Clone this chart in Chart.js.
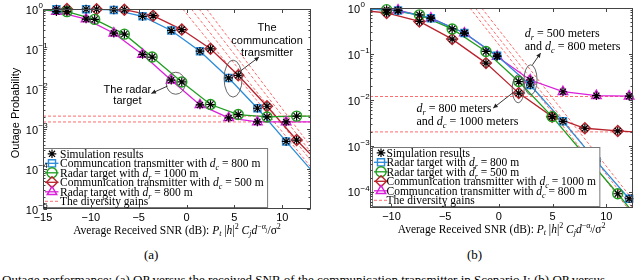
<!DOCTYPE html>
<html>
<head>
<meta charset="utf-8">
<script src="https://cdn.jsdelivr.net/npm/chart.js@4.4.1/dist/chart.umd.min.js"></script>
<style>
  body { margin: 0; width: 640px; height: 280px; overflow: hidden; background: #fff; position: relative; }
  .panel { position: absolute; top: 0; width: 320px; height: 245px; }
  .sub { position: absolute; top: 247px; font: 13px "Liberation Serif", serif; }
  #caption { position: absolute; left: 2px; top: 273px; font: 13px/14px "Liberation Serif", serif; white-space: nowrap; }
</style>
</head>
<body>
<div class="panel" style="left:0"><canvas id="a"></canvas></div>
<div class="panel" style="left:320px"><canvas id="b"></canvas></div>
<div class="sub" style="left:144px">(a)</div>
<div class="sub" style="left:467px">(b)</div>
<div id="caption">Outage performance: (a) OP versus the received SNR of the communication transmitter in Scenario I; (b) OP versus</div>
<script>
const SANS = '"Liberation Sans", Arial, sans-serif';
const SERIF = '"Liberation Serif", "Times New Roman", serif';

// ---- panel (a) ----
const xTicksA = [-15, -10, -5, 0, 5, 10];
const yExpA = [0, -1, -2, -3, -4, -5];

const commA800X = [-13.6, -10.5, -7.6, -4.6, -1.6, 1.4, 4.4, 7.4, 10.4];
const commA800Y = [0.99, 0.99, 0.95, 0.655, 0.29, 0.088, 0.0189, 0.0033, 0.00049];
const radarA1000X = [-12.5, -9.6, -6.5, -3.6, -0.5, 2.5, 5.4, 8.4, 11.5];
const radarA1000Y = [0.86, 0.55, 0.235, 0.063, 0.015, 0.0041, 0.0023, 0.0020, 0.0021];
const commA500X = [-12.5, -9.4, -6.5, -3.5, -0.5, 2.5, 5.4, 8.4, 11.5];
const commA500Y = [0.995, 0.99, 0.96, 0.68, 0.306, 0.101, 0.022, 0.0037, 0.00053];
const radarA800X = [-13.6, -10.5, -7.6, -4.6, -1.6, 1.4, 4.4, 7.4, 10.4];
const radarA800Y = [0.86, 0.56, 0.248, 0.073, 0.0166, 0.0040, 0.0019, 0.0015, 0.0015];
// curve values at the left / right edge of the axes
const edgesA = [[1.0, 9.5e-5], [0.95, 0.0021], [0.995, 2.26e-4], [0.95, 0.0015]];
// diversity gain asymptotes: start x at p = 1, value at right edge
const gainX0A = [-0.4, 0.5, 1.3, 2.1];
const gainEndA = [1.1e-4, 1.6e-4, 2.6e-4, 3.6e-4];
const gainLevelsA = [0.0021, 0.0015];

// ---- panel (b) ----
const xTicksB = [-10, -5, 0, 5, 10];
const yExpB = [0, -1, -2, -3, -4];

const radarB800X = [-9.39, -6.33, -3.21, -0.16, 2.92, 5.97, 9.08, 12.13];
const radarB800Y = [0.88, 0.60, 0.285, 0.091, 0.021, 0.0034, 0.00046, 0.00007];
const radarB500X = [-10.45, -7.4, -4.35, -1.2, 1.85, 4.96, 8.01, 11.07];
const radarB500Y = [0.92, 0.71, 0.35, 0.113, 0.025, 0.0043, 0.00062, 0.00009];
const commB1000X = [-10.45, -7.4, -4.35, -1.2, 1.85, 4.96, 8.01, 11.07];
const commB1000Y = [0.78, 0.51, 0.21, 0.063, 0.014, 0.0043, 0.0024, 0.0021];
const commB800X = [-9.39, -6.33, -3.21, -0.16, 2.92, 5.97, 9.08, 12.13];
const commB800Y = [0.90, 0.60, 0.285, 0.088, 0.027, 0.015, 0.0123, 0.012];
const edgesB = [[0.95, 6e-5], [0.95, 3.5e-5], [0.85, 0.002], [0.95, 0.012]];
const gainX0B = [-2.7, -2.2, -1.6];
const gainEndB = [3.1e-5, 4.3e-5, 6.5e-5];
const gainLevelsB = [0.0118, 0.0020];

const colors = { blue: '#2a8bd8', green: '#1f9e1f', red: '#b8232d', magenta: '#da1fda', gain: '#ff6b6b', frame: '#444' };

// rich text helpers
const R = t => ({ t });
const I = t => ({ t, i: true });
const SUB = t => ({ t, i: true, k: 0.7, dy: 0.25 });
const SUP = t => ({ t, k: 0.7, dy: -0.4 });

function rich(ctx, parts, x, y, size, family, align) {
  const base = y + size * 0.35;
  const segs = parts.map(pt => {
    const font = (pt.i ? 'italic ' : '') + (size * (pt.k || 1)).toFixed(1) + 'px ' + family;
    ctx.font = font;
    return { t: pt.t, font, w: ctx.measureText(pt.t).width, dy: (pt.dy || 0) * size };
  });
  const total = segs.reduce((s, g) => s + g.w, 0);
  let cx = align === 'center' ? x - total / 2 : align === 'right' ? x - total : x;
  ctx.textAlign = 'left';
  ctx.textBaseline = 'alphabetic';
  segs.forEach(g => { ctx.font = g.font; ctx.fillText(g.t, cx, base + g.dy); cx += g.w; });
  return total;
}

function measure(ctx, parts, size, family) {
  return parts.reduce((s, pt) => {
    ctx.font = (pt.i ? 'italic ' : '') + (size * (pt.k || 1)).toFixed(1) + 'px ' + family;
    return s + ctx.measureText(pt.t).width;
  }, 0);
}

function arrow(ctx, x1, y1, x2, y2) {
  ctx.beginPath(); ctx.moveTo(x1, y1); ctx.lineTo(x2, y2); ctx.stroke();
  const a = Math.atan2(y2 - y1, x2 - x1), L = 5;
  ctx.beginPath();
  ctx.moveTo(x2, y2);
  ctx.lineTo(x2 - L * Math.cos(a - 0.45), y2 - L * Math.sin(a - 0.45));
  ctx.lineTo(x2 - L * Math.cos(a + 0.45), y2 - L * Math.sin(a + 0.45));
  ctx.closePath();
  ctx.fill();
}

const mathTitle = [R('Average Received SNR (dB): '), I('P'), SUB('t'), R(' |'), I('h'), R('|'), SUP('2'), R(' '),
  I('C'), SUB('j'), I('d'), SUP('\u2212\u03b1'), { t: 'j', i: true, k: 0.5, dy: -0.15 }, R('/\u03c3'), SUP('2')];

const panels = {
  a: {
    xMin: -15, xMax: 13, yMin: 1e-5, xTicks: xTicksA, yExp: yExpA,
    pad: [9, 9], axisW: 43, axisH: 36, labGap: 5, legendDx: 0, legendTextDx: 16.5,
    series: [
      { x: commA800X, y: commA800Y, edge: edgesA[0], color: colors.blue, style: 'rect', r: 5,
        label: [R('Communcation transmitter with '), I('d'), SUB('c'), R(' = 800 m')] },
      { x: radarA1000X, y: radarA1000Y, edge: edgesA[1], color: colors.green, style: 'circle', r: 5,
        label: [R('Radar target with '), I('d'), SUB('r'), R(' = 1000 m')] },
      { x: commA500X, y: commA500Y, edge: edgesA[2], color: colors.red, style: 'rectRot', r: 5.5,
        label: [R('Communication transmitter with '), I('d'), SUB('c'), R(' = 500 m')] },
      { x: radarA800X, y: radarA800Y, edge: edgesA[3], color: colors.magenta, style: 'triangle', r: 5.5,
        label: [R('Radar target with '), I('d'), SUB('r'), R(' = 800 m')] }
    ],
    gainX0: gainX0A, gainEnd: gainEndA, gainLevels: gainLevelsA,
    notes: {
      ellipses: [{ x: 4.86, e: -1.74, rx: 9, ry: 18.5 }, { x: -1.13, e: -1.856, rx: 9.5, ry: 11 }],
      arrows: [[5.49, -1.575, 7.57, -1.20], [-2.01, -1.93, -3.68, -2.11]],
      texts: [
        { x: 8.41, e: -0.465, gap: 12.4, size: 11, font: SANS, align: 'center', lines: [[R('The')], [R('communcation')], [R('transmitter')]] },
        { x: -6.18, e: -2.005, gap: 11.3, size: 11, font: SANS, align: 'center', lines: [[R('The radar')], [R('target')]] }
      ]
    },
    yTitle: 'Outage Probability'
  },
  b: {
    xMin: -12, xMax: 12.5, yMin: 4.4e-5, xTicks: xTicksB, yExp: yExpB,
    pad: [8, 2], axisW: 50, axisH: 37, labGap: 10, legendDx: 2, legendTextDx: 14,
    series: [
      { x: radarB800X, y: radarB800Y, edge: edgesB[0], color: colors.blue, style: 'rect', r: 5,
        label: [R('Radar target with '), I('d'), SUB('r'), R(' = 800 m')] },
      { x: radarB500X, y: radarB500Y, edge: edgesB[1], color: colors.green, style: 'circle', r: 5,
        label: [R('Radar target with '), I('d'), SUB('r'), R(' = 500 m')] },
      { x: commB1000X, y: commB1000Y, edge: edgesB[2], color: colors.red, style: 'rectRot', r: 5.5,
        label: [R('Communication transmitter with '), I('d'), SUB('c'), R(' = 1000 m')] },
      { x: commB800X, y: commB800Y, edge: edgesB[3], color: colors.magenta, style: 'triangle', r: 5.5,
        label: [R('Communcation transmitter with '), I('d'), SUB('c'), R(' = 800 m')] }
    ],
    gainX0: gainX0B, gainEnd: gainEndB, gainLevels: gainLevelsB,
    notes: {
      ellipses: [{ x: 2.95, e: -1.564, rx: 6.5, ry: 15 }, { x: 1.80, e: -1.76, rx: 6, ry: 14 }],
      arrows: [[3.13, -1.237, 3.89, -0.981], [1.30, -1.847, -0.53, -2.18]],
      texts: [
        { x: 2.40, e: -0.539, gap: 12.7, size: 12, font: SERIF, align: 'left',
          lines: [[I('d'), SUB('r'), R(' = 500 meters')], [R('and '), I('d'), SUB('c'), R(' = 800 meters')]] },
        { x: -7.67, e: -2.175, gap: 13.4, size: 12, font: SERIF, align: 'left',
          lines: [[I('d'), SUB('r'), R(' = 800 meters')], [R('and '), I('d'), SUB('c'), R(' = 1000 meters')]] }
      ]
    }
  }
};

function pts(xs, ys) { return xs.map((x, i) => ({ x, y: ys[i] })); }

function buildSets(p) {
  const sets = [];
  const sim = [];
  p.series.forEach(s => sim.push(...pts(s.x, s.y)));
  sets.push({ data: sim, showLine: false, pointStyle: 'star', pointRadius: 4.3, borderColor: '#000',
    borderWidth: 1.2, pointBorderWidth: 1.2, clip: false });
  p.series.forEach(s => sets.push({ data: pts(s.x, s.y), showLine: false, pointStyle: s.style, pointRadius: s.r,
    borderColor: s.color, backgroundColor: 'rgba(0,0,0,0)', borderWidth: 1.4, pointBorderWidth: 1.4, clip: false }));
  p.series.forEach(s => sets.push({ data: [{ x: p.xMin, y: s.edge[0] }, ...pts(s.x, s.y), { x: p.xMax, y: s.edge[1] }],
    borderColor: s.color, borderWidth: 1.3, pointRadius: 0 }));
  p.gainX0.forEach((x0, i) => sets.push({ data: [{ x: x0, y: 1 }, { x: p.xMax, y: p.gainEnd[i] }],
    borderColor: colors.gain, borderWidth: 1, borderDash: [3, 2], pointRadius: 0 }));
  p.gainLevels.forEach(v => sets.push({ data: [{ x: p.xMin, y: v }, { x: p.xMax, y: v }],
    borderColor: colors.gain, borderWidth: 1, borderDash: [3, 2], pointRadius: 0 }));
  return sets;
}

const decor = {
  id: 'decor',
  afterDatasetsDraw(chart) {
    const p = panels[chart.canvas.id];
    const { ctx, chartArea: ca } = chart;
    const xs = chart.scales.x, ys = chart.scales.y;
    const X = v => xs.getPixelForValue(v), Y = e => ys.getPixelForValue(Math.pow(10, e));
    ctx.save();

    // annotations
    ctx.strokeStyle = '#555'; ctx.fillStyle = '#222'; ctx.lineWidth = 0.9;
    p.notes.ellipses.forEach(el => {
      ctx.beginPath(); ctx.ellipse(X(el.x), Y(el.e), el.rx, el.ry, 0, 0, 2 * Math.PI); ctx.stroke();
    });
    ctx.strokeStyle = '#222';
    p.notes.arrows.forEach(a => arrow(ctx, X(a[0]), Y(a[1]), X(a[2]), Y(a[3])));
    ctx.fillStyle = '#000';
    p.notes.texts.forEach(t => t.lines.forEach((ln, i) =>
      rich(ctx, ln, X(t.x), Y(t.e) + i * t.gap, t.size, t.font, t.align)));

    // legend box (south-west)
    const fs = 11.5, rowH = 9.5;
    const rows = [{ kind: 'sim', label: [R('Simulation results')] }]
      .concat(p.series.map(s => ({ kind: 'series', s, label: s.label })))
      .concat([{ kind: 'gain', label: [R('The diversity gains')] }]);
    const textW = Math.max(...rows.map(r => measure(ctx, r.label, fs, SERIF)));
    const bx = Math.round(ca.left + p.legendDx) + 0.5;
    const bw = p.legendTextDx + textW + 4;
    const bh = rows.length * rowH + 2;
    const by = Math.round(ca.bottom - 2 - bh) + 0.5;
    ctx.fillStyle = '#fff'; ctx.strokeStyle = '#777'; ctx.lineWidth = 1;
    ctx.fillRect(bx, by, bw, bh); ctx.strokeRect(bx, by, bw, bh);
    const helpers = Chart.helpers;
    rows.forEach((r, i) => {
      const cy = by + 5.3 + i * rowH;
      const mx = bx + 8.5;
      if (r.kind === 'series') {
        ctx.strokeStyle = r.s.color; ctx.lineWidth = 1.3;
        ctx.beginPath(); ctx.moveTo(bx + 1.5, cy); ctx.lineTo(bx + 15, cy); ctx.stroke();
        ctx.fillStyle = 'rgba(0,0,0,0)'; ctx.lineWidth = 1.4;
        helpers.drawPoint(ctx, { pointStyle: r.s.style, radius: r.s.r, rotation: 0, borderWidth: 1.4 }, mx, cy);
      } else if (r.kind === 'sim') {
        ctx.strokeStyle = '#000'; ctx.lineWidth = 1.2; ctx.fillStyle = 'rgba(0,0,0,0)';
        helpers.drawPoint(ctx, { pointStyle: 'star', radius: 4.3, rotation: 0, borderWidth: 1.2 }, mx, cy);
      } else {
        ctx.strokeStyle = colors.gain; ctx.lineWidth = 1; ctx.setLineDash([3, 2]);
        ctx.beginPath(); ctx.moveTo(bx + 1.5, cy); ctx.lineTo(bx + 15, cy); ctx.stroke();
        ctx.setLineDash([]);
      }
      ctx.fillStyle = '#000';
      rich(ctx, r.label, bx + p.legendTextDx, cy, fs, SERIF, 'left');
    });

    // axes box with inward ticks
    const L = Math.round(ca.left) + 0.5, T = Math.round(ca.top) + 0.5;
    const Rt = Math.round(ca.right) - 0.5, B = Math.round(ca.bottom) - 0.5;
    ctx.strokeStyle = colors.frame; ctx.lineWidth = 1;
    ctx.strokeRect(L, T, Rt - L, B - T);
    ctx.beginPath();
    p.xTicks.forEach(v => {
      const px = Math.round(X(v)) + 0.5;
      ctx.moveTo(px, B); ctx.lineTo(px, B - 3.5);
      ctx.moveTo(px, T); ctx.lineTo(px, T + 3.5);
    });
    p.yExp.forEach(e => {
      const py = Math.round(Y(e)) + 0.5;
      ctx.moveTo(L, py); ctx.lineTo(L + 3.5, py);
      ctx.moveTo(Rt, py); ctx.lineTo(Rt - 3.5, py);
    });
    for (let e = Math.floor(Math.log10(p.yMin)); e < 0; e++) {
      for (let k = 2; k <= 9; k++) {
        const v = k * Math.pow(10, e);
        if (v < p.yMin) continue;
        const py = Math.round(ys.getPixelForValue(v)) + 0.5;
        ctx.moveTo(L, py); ctx.lineTo(L + 2, py);
        ctx.moveTo(Rt, py); ctx.lineTo(Rt - 2, py);
      }
    }
    ctx.stroke();

    // tick labels
    ctx.fillStyle = '#000';
    p.xTicks.forEach(v => {
      const txt = (v < 0 ? '\u2212' : '') + Math.abs(v);
      rich(ctx, [R(txt)], X(v), ca.bottom + 8.5, 11, SANS, 'center');
    });
    p.yExp.forEach(e => {
      const py = Y(e);
      const xr = ca.left - p.labGap;
      rich(ctx, [R('10')], xr, py + 1, 11, SANS, 'right');
      rich(ctx, [R((e < 0 ? '\u2212' : '') + Math.abs(e))], xr + 0.5, py - 3.5, 8, SANS, 'left');
    });

    // axis titles
    rich(ctx, mathTitle, (ca.left + ca.right) / 2, ca.bottom + 20.5, 11.5, SERIF, 'center');
    if (p.yTitle) {
      ctx.save();
      ctx.translate(15, (ca.top + ca.bottom) / 2 + 4);
      ctx.rotate(-Math.PI / 2);
      rich(ctx, [R(p.yTitle)], 0, 0, 11, SANS, 'center');
      ctx.restore();
    }
    ctx.restore();
  }
};

function makeChart(id) {
  const p = panels[id];
  new Chart(document.getElementById(id), {
    type: 'line',
    data: { datasets: buildSets(p) },
    options: {
      responsive: true,
      maintainAspectRatio: false,
      animation: false,
      events: [],
      layout: { padding: { top: p.pad[0], right: p.pad[1], left: 0, bottom: 0 } },
      plugins: { legend: { display: false }, tooltip: { enabled: false } },
      scales: {
        x: {
          type: 'linear', min: p.xMin, max: p.xMax,
          grid: { display: false }, border: { display: false }, ticks: { display: false },
          afterBuildTicks: s => { s.ticks = p.xTicks.map(v => ({ value: v })); },
          afterFit: s => { s.height = p.axisH; }
        },
        y: {
          type: 'logarithmic', min: p.yMin, max: 1,
          grid: { display: false }, border: { display: false }, ticks: { display: false },
          afterBuildTicks: s => { s.ticks = p.yExp.map(e => ({ value: Math.pow(10, e) })); },
          afterFit: s => { s.width = p.axisW; }
        }
      }
    },
    plugins: [decor]
  });
}

makeChart('a');
makeChart('b');
</script>
</body>
</html>
